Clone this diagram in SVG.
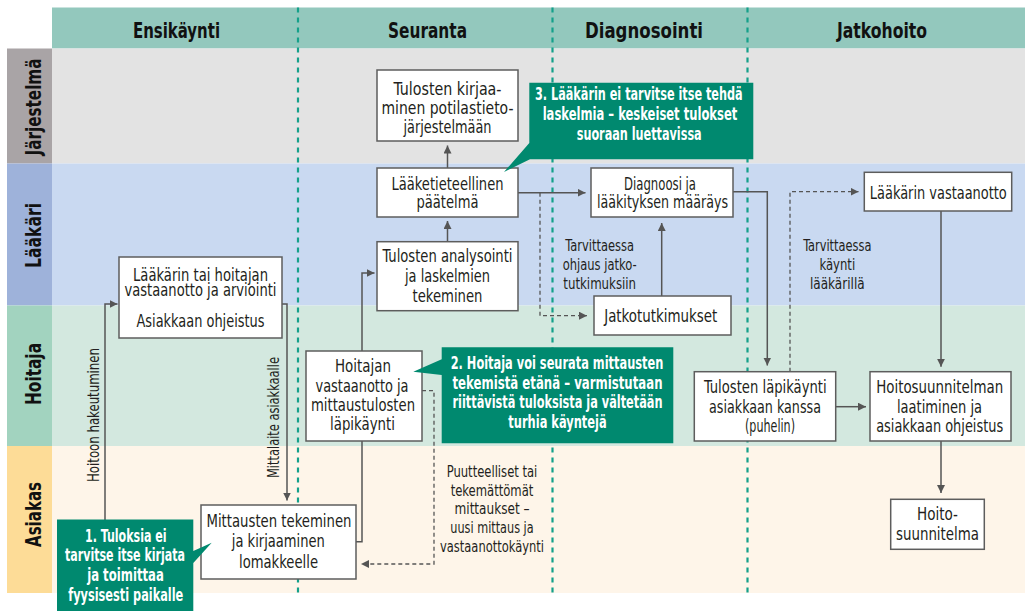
<svg xmlns="http://www.w3.org/2000/svg" width="1025" height="613" viewBox="0 0 1025 613">
<defs>
<style>
.t{font-family:"Liberation Sans Narrow","DejaVu Sans Condensed","Liberation Sans",sans-serif;font-size:18.5px;fill:#231f20;text-anchor:middle}
.l{font-family:"Liberation Sans Narrow","DejaVu Sans Condensed","Liberation Sans",sans-serif;font-size:16px;fill:#231f20;text-anchor:middle}
.h{font-family:"Liberation Sans Narrow","DejaVu Sans Condensed","Liberation Sans",sans-serif;font-size:21px;font-weight:bold;fill:#111;text-anchor:middle}
.c{font-family:"Liberation Sans Narrow","DejaVu Sans Condensed","Liberation Sans",sans-serif;font-size:18.5px;font-weight:bold;fill:#fff;text-anchor:middle}
.box{fill:#fff;stroke:#5d5d5d;stroke-width:1.5}
.call{fill:#00896f}
.con{fill:none;stroke:#555;stroke-width:1.5}
.dash{fill:none;stroke:#555;stroke-width:1.3;stroke-dasharray:4 3}
.div{stroke:#14a08a;stroke-width:2.2;stroke-dasharray:5 5}
</style>
<marker id="ar" markerUnits="userSpaceOnUse" markerWidth="9" markerHeight="9" refX="8" refY="4" orient="auto">
<path d="M0,0 L8,4 L0,8 z" fill="#555"/>
</marker>
</defs>
<rect x="0" y="0" width="1025" height="613" fill="#fff"/>
<g id="lanes">
<rect x="52" y="7.5" width="973" height="41" fill="#93c8bd"/>
<rect x="7" y="48.5" width="45" height="115" fill="#a9a4a6"/>
<rect x="52" y="48.5" width="973" height="115" fill="#e3e3e3"/>
<rect x="7" y="163.5" width="45" height="142" fill="#9eb2da"/>
<rect x="52" y="163.5" width="973" height="142" fill="#c9d9f1"/>
<rect x="7" y="305.5" width="45" height="140.5" fill="#a2d3bf"/>
<rect x="52" y="305.5" width="973" height="140.5" fill="#d3e8df"/>
<rect x="7" y="446" width="45" height="147" fill="#fddc97"/>
<rect x="52" y="446" width="973" height="147" fill="#fef5e9"/>
<text class="h" x="176.5" y="37.5" textLength="87" lengthAdjust="spacingAndGlyphs">Ensikäynti</text>
<text class="h" x="427.5" y="37.5" textLength="79" lengthAdjust="spacingAndGlyphs">Seuranta</text>
<text class="h" x="644" y="37.5" textLength="118" lengthAdjust="spacingAndGlyphs">Diagnosointi</text>
<text class="h" x="882" y="37.5" textLength="90" lengthAdjust="spacingAndGlyphs">Jatkohoito</text>
<text class="h" transform="translate(41,107) rotate(-90)" textLength="97" lengthAdjust="spacingAndGlyphs">Järjestelmä</text>
<text class="h" transform="translate(41,235.5) rotate(-90)" textLength="65" lengthAdjust="spacingAndGlyphs">Lääkäri</text>
<text class="h" transform="translate(41,374) rotate(-90)" textLength="62" lengthAdjust="spacingAndGlyphs">Hoitaja</text>
<text class="h" transform="translate(41,514.5) rotate(-90)" textLength="65" lengthAdjust="spacingAndGlyphs">Asiakas</text>
<line class="div" x1="298" y1="7.5" x2="298" y2="593"/>
<line class="div" x1="552.5" y1="7.5" x2="552.5" y2="593"/>
<line class="div" x1="747.5" y1="7.5" x2="747.5" y2="593"/>
</g>
<g id="connectors">
<path class="con" d="M105,560 V304 H117.5" marker-end="url(#ar)"/>
<path class="con" d="M282,304 H287 V500.5" marker-end="url(#ar)"/>
<path class="con" d="M356,541.7 H362 V273 H374.5" marker-end="url(#ar)"/>
<path class="con" d="M447.5,241.7 V221" marker-end="url(#ar)"/>
<path class="con" d="M447.5,168 V145.5" marker-end="url(#ar)"/>
<path class="con" d="M518,192.7 H585.5" marker-end="url(#ar)"/>
<path class="dash" d="M540,192.7 V315.7 H587" marker-end="url(#ar)"/>
<path class="con" d="M661.7,296 V223" marker-end="url(#ar)"/>
<path class="con" d="M733,191.7 H767.3 V365.5" marker-end="url(#ar)"/>
<path class="dash" d="M790,371.7 V191.7 H858.5" marker-end="url(#ar)"/>
<path class="con" d="M941,211 V366.7" marker-end="url(#ar)"/>
<path class="con" d="M835.7,406.7 H866" marker-end="url(#ar)"/>
<path class="con" d="M941,441 V493" marker-end="url(#ar)"/>
<path class="dash" d="M422,390.7 H434 V564 H361" marker-end="url(#ar)"/>
<text class="l" transform="translate(99,415) rotate(-90)" textLength="134" lengthAdjust="spacingAndGlyphs">Hoitoon hakeutuminen</text>
<text class="l" transform="translate(279,417.5) rotate(-90)" textLength="121" lengthAdjust="spacingAndGlyphs">Mittalaite asiakkaalle</text>
<text class="l" x="599.7" y="250.7" textLength="68.7" lengthAdjust="spacingAndGlyphs">Tarvittaessa</text>
<text class="l" x="599.7" y="270" textLength="74" lengthAdjust="spacingAndGlyphs">ohjaus jatko-</text>
<text class="l" x="599.7" y="288.5" textLength="72.7" lengthAdjust="spacingAndGlyphs">tutkimuksiin</text>
<text class="l" x="837.3" y="250.7" textLength="68.3" lengthAdjust="spacingAndGlyphs">Tarvittaessa</text>
<text class="l" x="837.3" y="270" textLength="35.7" lengthAdjust="spacingAndGlyphs">käynti</text>
<text class="l" x="837.3" y="288.5" textLength="54.7" lengthAdjust="spacingAndGlyphs">lääkärillä</text>
<text class="l" x="492" y="476.7" textLength="90.7" lengthAdjust="spacingAndGlyphs">Puutteelliset tai</text>
<text class="l" x="492" y="495.5" textLength="82.7" lengthAdjust="spacingAndGlyphs">tekemättömät</text>
<text class="l" x="492" y="514" textLength="75" lengthAdjust="spacingAndGlyphs">mittaukset –</text>
<text class="l" x="492" y="533" textLength="83.3" lengthAdjust="spacingAndGlyphs">uusi mittaus ja</text>
<text class="l" x="492" y="551.5" textLength="104" lengthAdjust="spacingAndGlyphs">vastaanottokäynti</text>
</g>
<g id="n-arviointi">
<rect class="box" x="119" y="257" width="163" height="81"/>
<text class="t" x="200.5" y="281" textLength="135" lengthAdjust="spacingAndGlyphs">Lääkärin tai hoitajan</text>
<text class="t" x="200.5" y="295.5" textLength="152" lengthAdjust="spacingAndGlyphs">vastaanotto ja arviointi</text>
<text class="t" x="200.5" y="327" textLength="128" lengthAdjust="spacingAndGlyphs">Asiakkaan ohjeistus</text>
</g>
<g id="n-kirjaaminen">
<rect class="box" x="377" y="70" width="141" height="71"/>
<text class="t" x="447.5" y="95" textLength="108" lengthAdjust="spacingAndGlyphs">Tulosten kirjaa-</text>
<text class="t" x="447.5" y="114" textLength="132" lengthAdjust="spacingAndGlyphs">minen potilastieto-</text>
<text class="t" x="447.5" y="132.5" textLength="88" lengthAdjust="spacingAndGlyphs">järjestelmään</text>
</g>
<g id="n-paatelma">
<rect class="box" x="377" y="168" width="141" height="49"/>
<text class="t" x="447.5" y="189.5" textLength="112" lengthAdjust="spacingAndGlyphs">Lääketieteellinen</text>
<text class="t" x="447.5" y="208" textLength="62" lengthAdjust="spacingAndGlyphs">päätelmä</text>
</g>
<g id="n-analysointi">
<rect class="box" x="377" y="241.7" width="141" height="69"/>
<text class="t" x="447.5" y="262" textLength="130" lengthAdjust="spacingAndGlyphs">Tulosten analysointi</text>
<text class="t" x="447.5" y="282" textLength="85" lengthAdjust="spacingAndGlyphs">ja laskelmien</text>
<text class="t" x="447.5" y="301.5" textLength="70" lengthAdjust="spacingAndGlyphs">tekeminen</text>
</g>
<g id="n-diagnoosi">
<rect class="box" x="591" y="168" width="142" height="49"/>
<text class="t" x="660" y="189.5" textLength="72" lengthAdjust="spacingAndGlyphs">Diagnoosi ja</text>
<text class="t" x="662.5" y="208" textLength="131" lengthAdjust="spacingAndGlyphs">lääkityksen määräys</text>
</g>
<g id="n-jatkotutkimukset">
<rect class="box" x="594" y="296" width="137" height="39"/>
<text class="t" x="660.7" y="321.7" textLength="113" lengthAdjust="spacingAndGlyphs">Jatkotutkimukset</text>
</g>
<g id="n-hoitajan">
<rect class="box" x="306" y="351" width="116" height="90"/>
<text class="t" x="363" y="372.3" textLength="56" lengthAdjust="spacingAndGlyphs">Hoitajan</text>
<text class="t" x="362" y="391.7" textLength="93" lengthAdjust="spacingAndGlyphs">vastaanotto ja</text>
<text class="t" x="363" y="410.7" textLength="104" lengthAdjust="spacingAndGlyphs">mittaustulosten</text>
<text class="t" x="362.5" y="430" textLength="65" lengthAdjust="spacingAndGlyphs">läpikäynti</text>
</g>
<g id="n-laakarin-vastaanotto">
<rect class="box" x="864.3" y="172.3" width="147.4" height="38.7"/>
<text class="t" x="938.3" y="199.3" textLength="137" lengthAdjust="spacingAndGlyphs">Lääkärin vastaanotto</text>
</g>
<g id="n-lapikaynti">
<rect class="box" x="694.3" y="371.7" width="141.4" height="69.3"/>
<text class="t" x="765.3" y="393.3" textLength="122.7" lengthAdjust="spacingAndGlyphs">Tulosten läpikäynti</text>
<text class="t" x="765" y="412.7" textLength="112" lengthAdjust="spacingAndGlyphs">asiakkaan kanssa</text>
<text class="t" x="770" y="431.7" textLength="50" lengthAdjust="spacingAndGlyphs">(puhelin)</text>
</g>
<g id="n-hoitosuunnitelman">
<rect class="box" x="870" y="371.7" width="141" height="69.3"/>
<text class="t" x="939.7" y="393.3" textLength="127" lengthAdjust="spacingAndGlyphs">Hoitosuunnitelman</text>
<text class="t" x="939.5" y="412.7" textLength="85" lengthAdjust="spacingAndGlyphs">laatiminen ja</text>
<text class="t" x="939.7" y="431.7" textLength="127" lengthAdjust="spacingAndGlyphs">asiakkaan ohjeistus</text>
</g>
<g id="n-hoitosuunnitelma">
<rect class="box" x="890.7" y="499.3" width="93.6" height="50"/>
<text class="t" x="937.5" y="520" textLength="41" lengthAdjust="spacingAndGlyphs">Hoito-</text>
<text class="t" x="937.5" y="540" textLength="83" lengthAdjust="spacingAndGlyphs">suunnitelma</text>
</g>
<g id="n-mittausten">
<rect class="box" x="201" y="505" width="155" height="74"/>
<text class="t" x="279" y="527.3" textLength="145" lengthAdjust="spacingAndGlyphs">Mittausten tekeminen</text>
<text class="t" x="278.3" y="547.3" textLength="93" lengthAdjust="spacingAndGlyphs">ja kirjaaminen</text>
<text class="t" x="278.5" y="568.3" textLength="79" lengthAdjust="spacingAndGlyphs">lomakkeelle</text>
</g>
<g id="callout-1">
<path class="call" d="M57,519.5 H193.3 V551 L211.7,542.7 L193.3,563 V611 H57 Z"/>
<text class="c" x="125.8" y="541.7" textLength="81.7" lengthAdjust="spacingAndGlyphs">1. Tuloksia ei</text>
<text class="c" x="125" y="560.7" textLength="120" lengthAdjust="spacingAndGlyphs">tarvitse itse kirjata</text>
<text class="c" x="125.5" y="580.7" textLength="76.7" lengthAdjust="spacingAndGlyphs">ja toimittaa</text>
<text class="c" x="125.8" y="600.7" textLength="115" lengthAdjust="spacingAndGlyphs">fyysisesti paikalle</text>
</g>
<g id="callout-2">
<path class="call" d="M441.7,347.3 H673.3 V443.3 H441.7 V375 L413.3,371.7 L441.7,359.3 Z"/>
<text class="c" x="557" y="369.3" textLength="212.7" lengthAdjust="spacingAndGlyphs">2. Hoitaja voi seurata mittausten</text>
<text class="c" x="557.5" y="389" textLength="210" lengthAdjust="spacingAndGlyphs">tekemistä etänä – varmistutaan</text>
<text class="c" x="557.5" y="408.3" textLength="210" lengthAdjust="spacingAndGlyphs">riittävistä tuloksista ja vältetään</text>
<text class="c" x="557.5" y="428.3" textLength="98.3" lengthAdjust="spacingAndGlyphs">turhia käyntejä</text>
</g>
<g id="callout-3">
<path class="call" d="M529.3,82.7 H753.3 V159.3 H530 L504,172 L529.3,143 Z"/>
<text class="c" x="638.8" y="100" textLength="207.7" lengthAdjust="spacingAndGlyphs">3. Lääkärin ei tarvitse itse tehdä</text>
<text class="c" x="640" y="120" textLength="194.7" lengthAdjust="spacingAndGlyphs">laskelmia – keskeiset tulokset</text>
<text class="c" x="639.2" y="140" textLength="125" lengthAdjust="spacingAndGlyphs">suoraan luettavissa</text>
</g>
</svg>
